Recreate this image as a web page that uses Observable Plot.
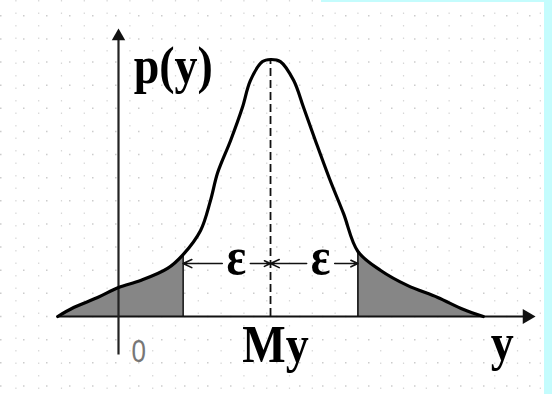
<!DOCTYPE html>
<html>
<head>
<meta charset="utf-8">
<script src="https://cdn.jsdelivr.net/npm/d3@7"></script>
<script src="https://cdn.jsdelivr.net/npm/@observablehq/plot@0.6"></script>
<style>
  html, body { margin: 0; padding: 0; background: #fff; }
  #wrap { position: relative; width: 552px; height: 394px; overflow: hidden; }
  #wrap svg { display: block; }
  .edge-right { position: absolute; top: 0; right: 0; width: 8px; height: 394px; background: #c4fcfd; }
  .edge-top { position: absolute; top: 0; left: 321px; width: 231px; height: 2px; background: #c4fcfd; }
</style>
</head>
<body>
<div id="wrap"><div class="edge-top"></div><div class="edge-right"></div></div>
<script>
// Density curve p(y), sampled along the y axis (peak at My)
const curveX = [-1.6, -1.18, -0.55, 0.0, 0.58, 1.29, 1.7, 2.16, 2.42, 2.61, 2.95, 3.26, 3.47, 3.79, 4.0, 4.26, 4.61, 4.87, 5.18, 5.55, 5.92, 6.3, 6.9, 7.6, 8.4, 9.08, 9.6];
const curveP = [0.0, 0.035, 0.074, 0.113, 0.14, 0.187, 0.241, 0.335, 0.451, 0.56, 0.685, 0.813, 0.918, 0.992, 1.0, 0.992, 0.918, 0.813, 0.685, 0.537, 0.401, 0.253, 0.179, 0.121, 0.074, 0.027, 0.0];

// Centre and half-width of the interval
const My = 4.0;
const eps = 2.3;
const epsLevel = 0.206;

// Axis extents (data units)
const xAxisSpan = [-1.6, 10.75];
const pAxisSpan = [-0.15, 1.09];

// Labels
const labelText = ["p(y)", "My", "y", "ε", "ε"];
const labelX    = [0.4, 4.13, 10.1, 3.1, 5.32];
const labelP    = [0.975, -0.113, -0.105, 0.233, 0.233];
const zeroLabel = "0";

const curve = curveX.map((x, i) => ({x, p: curveP[i]}));
const lo = My - eps, hi = My + eps;
const leftTail = curve.filter(d => d.x <= lo + 1e-9);
const rightTail = curve.filter(d => d.x >= hi - 1e-9);
const bounds = [leftTail[leftTail.length - 1], rightTail[0]];
const peak = curve.find(d => d.x === My);
const labels = labelText.map((t, i) => ({t, x: labelX[i], p: labelP[i]}));

const gap = 0.37;
const epsArrows = [
  {x1: labelX[3] - gap, x2: lo},
  {x1: labelX[3] + gap, x2: My},
  {x1: labelX[4] - gap, x2: My},
  {x1: labelX[4] + gap, x2: hi}
];

const chart = Plot.plot({
  width: 552,
  height: 394,
  margin: 0,
  x: {domain: [-3.105, 11.42], axis: null},
  y: {domain: [-0.3035, 1.2296], axis: null},
  marks: [
    // faint dotted paper grid
    Plot.gridY(d3.range(-0.27, 1.23, 0.09), {stroke: "#9a9a9a", strokeOpacity: 0.5, strokeDasharray: "1.5,21.5", strokeWidth: 1.5}),
    Plot.gridX(d3.range(-2.7, 11.4, 0.6), {stroke: "#9a9a9a", strokeOpacity: 0.4, strokeDasharray: "1.5,11", strokeWidth: 1.2}),
    // shaded tails
    Plot.areaY(leftTail, {x: "x", y: "p", fill: "#868686", curve: "catmull-rom"}),
    Plot.areaY(rightTail, {x: "x", y: "p", fill: "#868686", curve: "catmull-rom"}),
    // axes
    Plot.ruleY([0], {x1: xAxisSpan[0], x2: xAxisSpan[1], stroke: "#111", strokeWidth: 2}),
    Plot.ruleX([0], {y1: pAxisSpan[0], y2: pAxisSpan[1], stroke: "#222", strokeWidth: 2.2}),
    Plot.dot([{x: xAxisSpan[1], p: 0}], {x: "x", y: "p", symbol: "triangle", rotate: 90, r: 5.5, fill: "#111", stroke: null}),
    Plot.dot([{x: 0, p: pAxisSpan[1]}], {x: "x", y: "p", symbol: "triangle", r: 5, fill: "#111", stroke: null}),
    // interval bounds and centre
    Plot.ruleX(bounds, {x: "x", y1: 0, y2: "p", stroke: "#111", strokeWidth: 1.6}),
    Plot.ruleX([peak], {x: "x", y1: 0, y2: "p", stroke: "#111", strokeWidth: 1.8, strokeDasharray: "8,4"}),
    // density curve
    Plot.line(curve, {x: "x", y: "p", stroke: "#000", strokeWidth: 3.2, curve: "catmull-rom"}),
    // ε arrows
    Plot.arrow(epsArrows, {x1: "x1", x2: "x2", y1: epsLevel, y2: epsLevel, stroke: "#111", strokeWidth: 1.6, headLength: 9, headAngle: 50}),
    // labels
    Plot.text(labels, {x: "x", y: "p", text: "t", fontFamily: "Liberation Serif", fontWeight: "bold", fontSize: 46, fill: "#000", textAnchor: "middle", lineAnchor: "middle"}),
    Plot.text([zeroLabel], {x: 0.53, y: -0.14, text: d => d, fontFamily: "Liberation Sans", fontSize: 26, fill: "#777", lineAnchor: "middle"})
  ]
});

// the lettering in this drawing is slightly tall
d3.select(chart).selectAll("text").each(function () {
  const t = d3.select(this);
  const k = this.textContent === zeroLabel ? 1.2 : 1.15;
  const tr = t.attr("transform");
  if (tr) {
    t.attr("transform", tr + ` scale(1,${k})`);
  } else {
    const x = +t.attr("x") || 0, y = +t.attr("y") || 0;
    t.attr("x", null).attr("y", null).attr("transform", `translate(${x},${y}) scale(1,${k})`);
  }
});

// p(y) is set flush left
d3.select(chart).selectAll("text").filter(function () { return this.textContent === "p(y)"; }).attr("text-anchor", "start");

document.getElementById("wrap").prepend(chart);
</script>
</body>
</html>
